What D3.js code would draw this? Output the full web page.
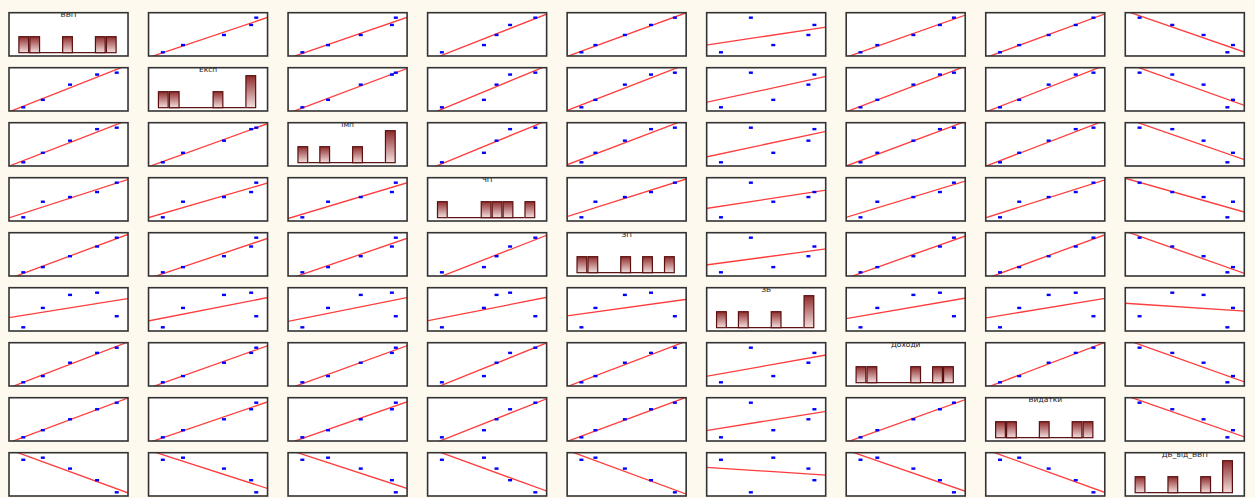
<!DOCTYPE html>
<html>
<head>
<meta charset="utf-8">
<script src="https://cdn.jsdelivr.net/npm/d3@7/dist/d3.min.js"></script>
<style>
  html, body { margin: 0; padding: 0; background: #fdf9ef; }
  svg { display: block; }
</style>
</head>
<body>
<svg id="chart" width="1255" height="498"></svg>
<script>
// Variable names (diagonal labels)
const variables = ["ВВП", "Експ", "Імп", "ЧП", "ЗП", "ЗБ", "Доходи", "Видатки", "ДБ_від_ВВП"];

// Five observations per variable
const vvp      = [1080, 1353, 1733, 2111, 2385];
const eksp     = [540, 635, 828, 956, 980];
const imp      = [560, 692, 860, 1020, 1040];
const chp      = [120, 210, 237, 266, 320];
const zp       = [2500, 3190, 4639, 5927, 7100];
const zb       = [7.2, 8.6, 9.54, 9.7, 8.0];
const dokhody  = [300, 390, 583, 725, 800];
const vydatky  = [320, 439, 622, 790, 900];
const db       = [76.4, 80, 61.1, 41, 20];

const series = [vvp, eksp, imp, chp, zp, zb, dokhody, vydatky, db];
const nBins = 9;

const svg = d3.select("#chart");
const W = 1255, H = 498;

const colBand = d3.scaleBand().domain(d3.range(variables.length)).range([9, 1244.3]).paddingInner(0.147);
const rowBand = d3.scaleBand().domain(d3.range(variables.length)).range([12.7, 496]).paddingInner(0.213);
const cw = colBand.bandwidth(), ch = rowBand.bandwidth();

// Per-variable scales (in cell-local coordinates)
const xScales = series.map(s => d3.scaleLinear().domain(d3.extent(s)).range([0.12 * cw, 0.905 * cw]));
const yScales = series.map(s => d3.scaleLinear().domain(d3.extent(s)).range([ch - 0.085 * ch, ch - 0.885 * ch]));
const hxScales = series.map(s => d3.scaleLinear().domain(d3.extent(s)).range([0.078 * cw, 0.905 * cw]));
const baseY = ch - 3.3;
const hy = d3.scaleLinear().domain([0, 2.5]).range([baseY, baseY - 40]);

const defs = svg.append("defs");
const grad = defs.append("linearGradient").attr("id", "barGrad")
  .attr("x1", 0).attr("y1", 0).attr("x2", 0).attr("y2", 1);
grad.append("stop").attr("offset", "0%").attr("stop-color", "#8e2a2a");
grad.append("stop").attr("offset", "100%").attr("stop-color", "#f4e0e0");
defs.append("clipPath").attr("id", "cellClip")
  .append("rect").attr("x", 0).attr("y", 0).attr("width", cw).attr("height", ch);

function regression(xs, ys) {
  const mx = d3.mean(xs), my = d3.mean(ys);
  let sxy = 0, sxx = 0;
  for (let i = 0; i < xs.length; i++) { sxy += (xs[i] - mx) * (ys[i] - my); sxx += (xs[i] - mx) ** 2; }
  const b = sxy / sxx;
  return { a: my - b * mx, b };
}

for (let r = 0; r < variables.length; r++) {
  for (let c = 0; c < variables.length; c++) {
    const g = svg.append("g").attr("transform", `translate(${colBand(c)},${rowBand(r)})`);
    g.append("rect").attr("width", cw).attr("height", ch).attr("fill", "#ffffff");
    const inner = g.append("g").attr("clip-path", "url(#cellClip)");

    if (r === c) {
      const s = series[c];
      const ext = d3.extent(s);
      const step = (ext[1] - ext[0]) / nBins;
      const thresholds = d3.range(1, nBins).map(k => ext[0] + k * step);
      const bins = d3.bin().domain(ext).thresholds(thresholds)(s);
      const hx = hxScales[c];
      const nonEmpty = bins.filter(b => b.length > 0);
      // baseline between first and last bar
      inner.append("line")
        .attr("x1", hx(nonEmpty[0].x1)).attr("x2", hx(nonEmpty[nonEmpty.length - 1].x0))
        .attr("y1", baseY).attr("y2", baseY)
        .attr("stroke", "#5c1414").attr("stroke-width", 1.2);
      inner.selectAll("rect.bar").data(nonEmpty).join("rect")
        .attr("class", "bar")
        .attr("x", d => hx(d.x0) + 0.6)
        .attr("width", d => hx(d.x1) - hx(d.x0) - 1.2)
        .attr("y", d => hy(d.length))
        .attr("height", d => baseY - hy(d.length))
        .attr("fill", "url(#barGrad)")
        .attr("stroke", "#5a1010").attr("stroke-width", 1.2);
      inner.append("text")
        .attr("x", cw / 2).attr("y", 4.6)
        .attr("text-anchor", "middle")
        .attr("font-family", "DejaVu Sans, sans-serif")
        .attr("font-size", 7.5)
        .attr("fill", "#222")
        .text(variables[c]);
    } else {
      const xs = series[c], ys = series[r];
      const xs_ = xScales[c], ys_ = yScales[r];
      const reg = regression(xs, ys);
      const xa = xs_.invert(-2), xb = xs_.invert(cw + 2);
      inner.append("line")
        .attr("x1", xs_(xa)).attr("y1", ys_(reg.a + reg.b * xa))
        .attr("x2", xs_(xb)).attr("y2", ys_(reg.a + reg.b * xb))
        .attr("stroke", "#ff3b3b").attr("stroke-width", 1.3);
      inner.selectAll("rect.pt").data(d3.range(xs.length)).join("rect")
        .attr("class", "pt")
        .attr("x", i => xs_(xs[i]) - 2)
        .attr("y", i => ys_(ys[i]) - 1.2)
        .attr("width", 4).attr("height", 2.4)
        .attr("fill", "#0000ff");
    }
    g.append("rect").attr("width", cw).attr("height", ch)
      .attr("fill", "none").attr("stroke", "#333333").attr("stroke-width", 1.6);
  }
}
</script>
</body>
</html>
